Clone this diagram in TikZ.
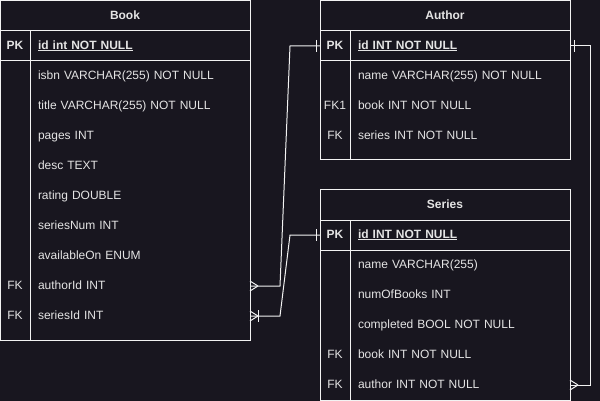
\documentclass[tikz,border=0pt]{standalone}
\usepackage{fontspec}
\setmainfont{Liberation Sans}
\usepackage{tikz}
\usetikzlibrary{positioning}

\definecolor{canvas}{HTML}{18161F}
\definecolor{ink}{HTML}{E4E4E4}
\definecolor{edge}{HTML}{F2F2F2}

\begin{document}
\begin{tikzpicture}[
    x=1pt, y=-1pt,
    every node/.style={text=ink, font=\fontsize{12}{14}\selectfont, outer sep=0pt, text height=8.6pt, text depth=2.4pt},
    title/.style={rectangle, draw=edge, line width=1pt, minimum width=250pt, minimum height=30pt, inner sep=0pt, font=\fontsize{12}{14}\selectfont\bfseries},
    pkkey/.style={rectangle, draw=edge, line width=1pt, minimum width=30pt, minimum height=30pt, inner sep=0pt, font=\fontsize{12}{14}\selectfont\bfseries},
    pkfield/.style={rectangle, draw=edge, line width=1pt, minimum height=30pt, text width=204pt, inner xsep=8pt, inner ysep=0pt, align=left, font=\fontsize{12}{14}\selectfont\bfseries},
    keycol/.style={rectangle, draw=edge, line width=1pt, minimum width=30pt, inner sep=0pt, anchor=north west},
    fieldcol/.style={rectangle, draw=edge, line width=1pt, minimum width=220pt, inner sep=0pt, anchor=north west},
    field/.style={rectangle, minimum height=30pt, text width=204pt, inner xsep=8pt, inner ysep=0pt, align=left},
    key/.style={rectangle, minimum width=30pt, minimum height=30pt, inner sep=0pt},
    link/.style={draw=edge, line width=1pt}
]

\fill[canvas] (0,0) rectangle (600,401);
\useasboundingbox (0,0) rectangle (600,401);

% Book table
\node[title] (book) at (125,16) {Book};
\node[pkkey, anchor=north west] (bk-pk) at (book.south west) {PK};
\node[pkfield, right=0pt of bk-pk] (bk-id) {\underline{id int NOT NULL}};
\node[keycol, minimum height=279pt] (bk-keys) at (bk-pk.south west) {};
\node[fieldcol, minimum height=279pt] (bk-fields) at (bk-id.south west) {};
\node[field, anchor=north west] (bk-isbn) at (bk-fields.north west) {isbn VARCHAR(255) NOT NULL};
\node[field, below=0pt of bk-isbn] (bk-title) {title VARCHAR(255) NOT NULL};
\node[field, below=0pt of bk-title] (bk-pages) {pages INT};
\node[field, below=0pt of bk-pages] (bk-desc) {desc TEXT};
\node[field, below=0pt of bk-desc] (bk-rating) {rating DOUBLE};
\node[field, below=0pt of bk-rating] (bk-seriesnum) {seriesNum INT};
\node[field, below=0pt of bk-seriesnum] (bk-available) {availableOn ENUM};
\node[field, below=0pt of bk-available] (bk-authorid) {authorId INT};
\node[key, left=0pt of bk-authorid] (bk-authorfk) {FK};
\node[field, below=0pt of bk-authorid] (bk-seriesid) {seriesId INT};
\node[key, left=0pt of bk-seriesid] (bk-seriesfk) {FK};

% Author table
\node[title] (author) at (445,16) {Author};
\node[pkkey, anchor=north west] (au-pk) at (author.south west) {PK};
\node[pkfield, right=0pt of au-pk] (au-id) {\underline{id INT NOT NULL}};
\node[keycol, minimum height=99pt] (au-keys) at (au-pk.south west) {};
\node[fieldcol, minimum height=99pt] (au-fields) at (au-id.south west) {};
\node[field, anchor=north west] (au-name) at (au-fields.north west) {name VARCHAR(255) NOT NULL};
\node[field, below=0pt of au-name] (au-book) {book INT NOT NULL};
\node[key, left=0pt of au-book] (au-bookfk) {FK1};
\node[field, below=0pt of au-book] (au-series) {series INT NOT NULL};
\node[key, left=0pt of au-series] (au-seriesfk) {FK};

% Series table
\node[title] (series) at (445,205) {Series};
\node[pkkey, anchor=north west] (se-pk) at (series.south west) {PK};
\node[pkfield, right=0pt of se-pk] (se-id) {\underline{id INT NOT NULL}};
\node[keycol, minimum height=150pt] (se-keys) at (se-pk.south west) {};
\node[fieldcol, minimum height=150pt] (se-fields) at (se-id.south west) {};
\node[field, anchor=north west] (se-name) at (se-fields.north west) {name VARCHAR(255)};
\node[field, below=0pt of se-name] (se-count) {numOfBooks INT};
\node[field, below=0pt of se-count] (se-done) {completed BOOL NOT NULL};
\node[field, below=0pt of se-done] (se-book) {book INT NOT NULL};
\node[key, left=0pt of se-book] (se-bookfk) {FK};
\node[field, below=0pt of se-book] (se-author) {author INT NOT NULL};
\node[key, left=0pt of se-author] (se-authorfk) {FK};

% Relations
\draw[link] (bk-authorid.east) -- ([xshift=30pt]bk-authorid.east) -- ([xshift=-30pt]au-pk.west) -- (au-pk.west);
\draw[link] (bk-seriesid.east) -- ([xshift=30pt]bk-seriesid.east) -- ([xshift=-30pt]se-pk.west) -- (se-pk.west);
\draw[link] (au-id.east) -- ([xshift=20pt]au-id.east) -- ([xshift=20pt]se-author.east) -- (se-author.east);

% Ends: crow's feet (many) and bars (one)
\draw[link] ([xshift=8pt]bk-authorid.east) -- ++(-8,-5) ([xshift=8pt]bk-authorid.east) -- ++(-8,5);
\draw[link] ([xshift=8pt]bk-seriesid.east) -- ++(-8,-5) ([xshift=8pt]bk-seriesid.east) -- ++(-8,5);
\draw[link] ([xshift=8pt]bk-seriesid.east) ++(0,-6) -- ++(0,12);
\draw[link] ([xshift=8pt]se-author.east) -- ++(-8,-5) ([xshift=8pt]se-author.east) -- ++(-8,5);
\draw[link] ([xshift=-4pt]au-pk.west) ++(0,-6) -- ++(0,12);
\draw[link] ([xshift=-4pt]se-pk.west) ++(0,-6) -- ++(0,12);
\draw[link] ([xshift=4pt]au-id.east) ++(0,-6) -- ++(0,12);

\end{tikzpicture}
\end{document}
